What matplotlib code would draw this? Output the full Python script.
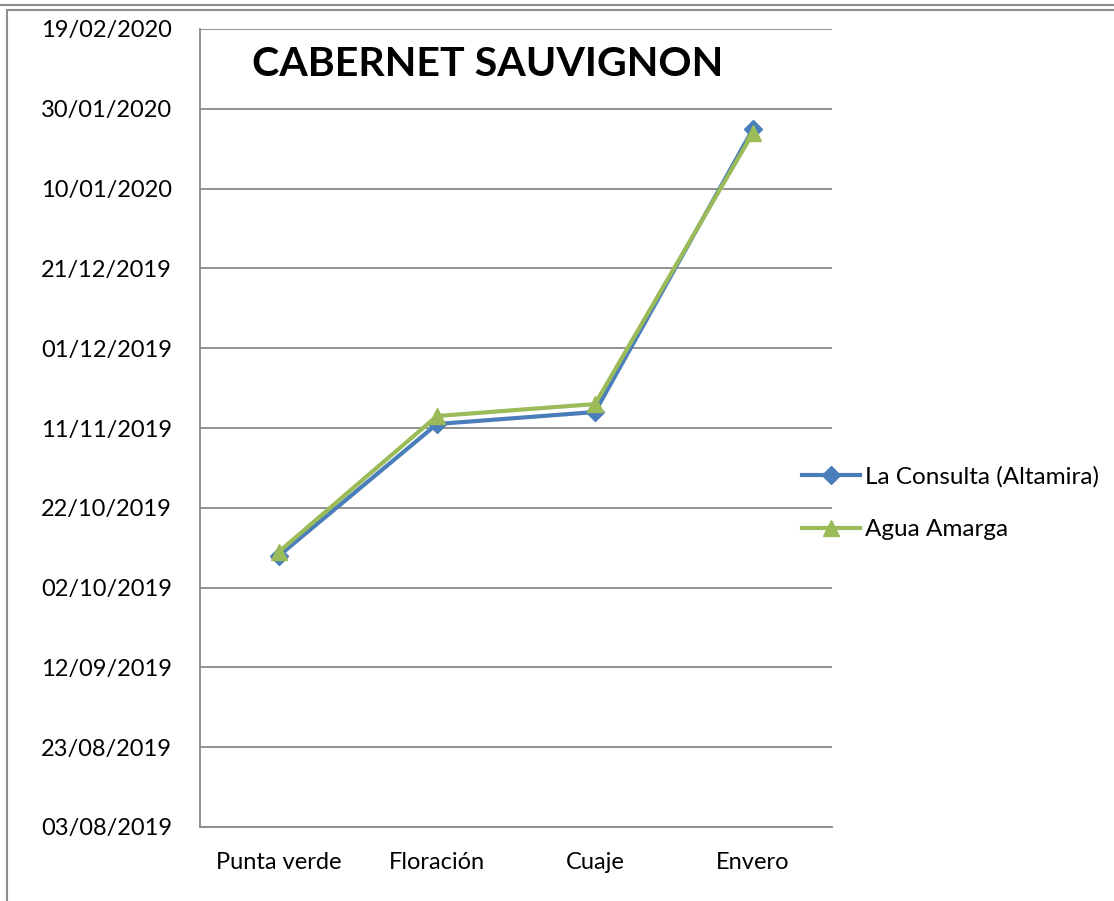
import datetime as dt
import matplotlib
matplotlib.use("Agg")
import matplotlib.pyplot as plt
import matplotlib.dates as mdates
from matplotlib.lines import Line2D

# Data
stages = ["Punta verde", "Floración", "Cuaje", "Envero"]
la_consulta = ["10/10/2019", "12/11/2019", "15/11/2019", "25/01/2020"]
agua_amarga = ["11/10/2019", "14/11/2019", "17/11/2019", "24/01/2020"]
tick_start = "03/08/2019"
tick_step_days = 20
n_ticks = 11

def to_num(s):
    return mdates.date2num(dt.datetime.strptime(s, "%d/%m/%Y"))

plt.rcParams['font.family'] = ['Lato', 'DejaVu Sans']

fig = plt.figure(figsize=(11.14, 9.01), dpi=100)
ax = fig.add_axes([200 / 1114, 1 - 827 / 901, 632 / 1114, 798 / 901])

x = range(len(stages))
ax.plot(x, [to_num(d) for d in la_consulta], color='#4a7ebb', lw=3,
        marker='D', markersize=9, label='La Consulta (Altamira)', zorder=3)
ax.plot(x, [to_num(d) for d in agua_amarga], color='#9bbb59', lw=3,
        marker='^', markersize=12, label='Agua Amarga', zorder=4)

start = to_num(tick_start)
ticks = [start + i * tick_step_days for i in range(n_ticks)]
ax.set_yticks(ticks)
ax.set_ylim(ticks[0], ticks[-1])
ax.yaxis.set_major_formatter(mdates.DateFormatter('%d/%m/%Y'))
ax.set_xticks(list(x))
ax.set_xticklabels(stages)
ax.set_xlim(-0.5, len(stages) - 0.5)

ax.grid(axis='y', color='#898989', lw=1.3)
ax.set_axisbelow(True)
for side in ['top', 'right']:
    ax.spines[side].set_visible(False)
for side in ['left', 'bottom']:
    ax.spines[side].set_color('#898989')
    ax.spines[side].set_linewidth(1.3)
ax.tick_params(axis='both', length=0, labelsize=17, colors='black')
ax.tick_params(axis='y', pad=20)
ax.tick_params(axis='x', pad=18)

ax.text(0.455, 0.979, 'CABERNET SAUVIGNON', transform=ax.transAxes,
        ha='center', va='top', fontsize=29.6, fontweight='bold')

leg = fig.legend(loc='center left', bbox_to_anchor=(780 / 1114, 1 - 503 / 901),
                 frameon=False, fontsize=17.5, handlelength=2.4,
                 handletextpad=0.2, labelspacing=1.3)

# outer frame lines
gray = '#8c8c8c'
fig.add_artist(Line2D([0, 1], [1 - 5 / 901, 1 - 5 / 901], transform=fig.transFigure, color=gray, lw=1.5))
fig.add_artist(Line2D([7 / 1114, 1], [1 - 10 / 901, 1 - 10 / 901], transform=fig.transFigure, color=gray, lw=1.5))
fig.add_artist(Line2D([7 / 1114, 7 / 1114], [0, 1 - 10 / 901], transform=fig.transFigure, color=gray, lw=1.5))

fig.savefig('out.png', dpi=100)
